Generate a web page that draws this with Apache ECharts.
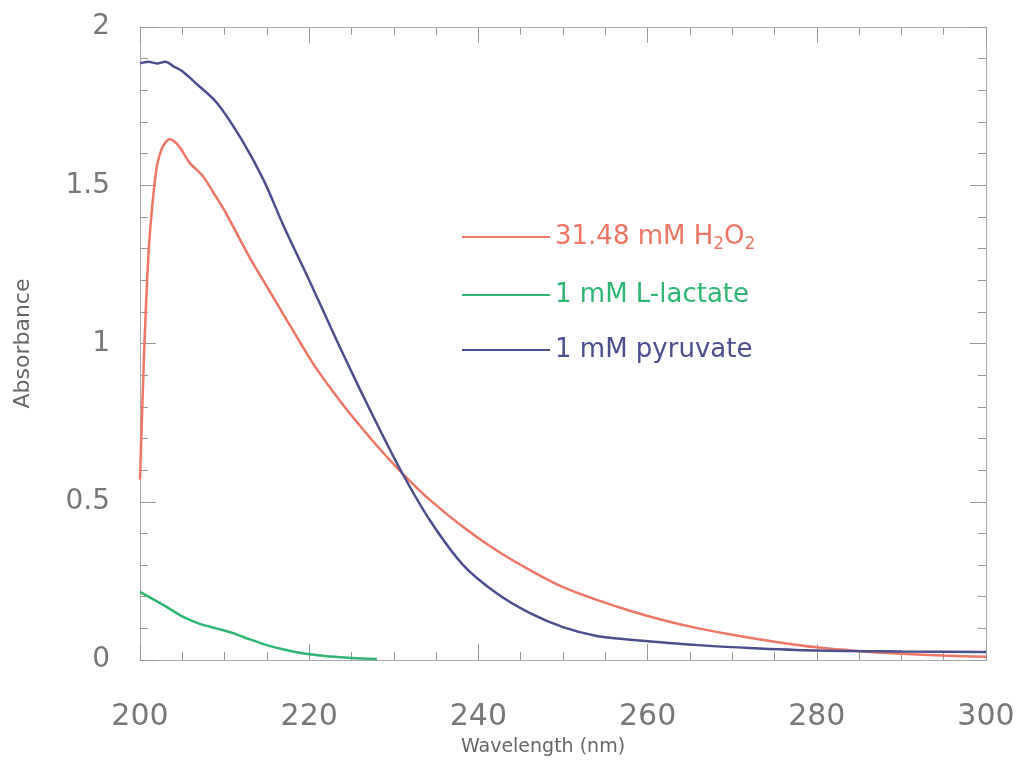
<!DOCTYPE html>
<html>
<head>
<meta charset="utf-8">
<script src="https://cdn.jsdelivr.net/npm/echarts@6/dist/echarts.min.js"></script>
<style>
  html, body { margin: 0; padding: 0; background: #fff; }
  #chart { width: 1018px; height: 764px; }
</style>
</head>
<body>
<div id="chart"></div>
<script>
// wavelength (nm) / absorbance
var h2o2Wl  = [200, 200.5, 201, 201.5, 202, 202.5, 203, 203.5, 204, 204.7, 205.9, 207.4, 208.6, 210, 211, 213, 215, 217, 219, 221, 223.6, 226, 228.4, 231, 234.3, 238.2, 242.2, 246.1, 250, 254, 258, 262, 266, 270, 275, 280, 285, 290, 295, 300];
var h2o2Abs = [0.57, 0.98, 1.28, 1.45, 1.56, 1.61, 1.635, 1.645, 1.64, 1.62, 1.57, 1.53, 1.48, 1.42, 1.37, 1.27, 1.18, 1.09, 1.0, 0.915, 0.82, 0.74, 0.665, 0.59, 0.505, 0.42, 0.345, 0.284, 0.23, 0.19, 0.155, 0.125, 0.1, 0.08, 0.058, 0.04, 0.028, 0.02, 0.014, 0.01];

var lactWl  = [200, 201, 203, 205.1, 207, 209, 211, 213, 215, 217, 219, 221, 223, 225, 228];
var lactAbs = [0.215, 0.2, 0.17, 0.136, 0.115, 0.1, 0.085, 0.065, 0.047, 0.033, 0.022, 0.015, 0.01, 0.006, 0.003];

var pyrWl  = [200, 201, 202, 203, 204, 205, 206.7, 209.1, 212, 214.6, 217, 220, 223.6, 226, 228.4, 231, 234.3, 238.2, 242.2, 246.1, 250, 254, 258, 262, 266, 272, 280, 290, 300];
var pyrAbs = [1.885, 1.89, 1.885, 1.89, 1.875, 1.86, 1.82, 1.76, 1.645, 1.517, 1.37, 1.2, 0.99, 0.855, 0.725, 0.59, 0.44, 0.3, 0.21, 0.148, 0.104, 0.076, 0.064, 0.055, 0.047, 0.038, 0.03, 0.027, 0.025];

var names  = ['31.48 mM H2O2', '1 mM L-lactate', '1 mM pyruvate'];
var colors = ['#ef7565', '#2fb673', '#4b4f8e'];

function pairs(xs, ys) {
    return xs.map(function (x, i) { return [x, ys[i]]; });
}

var chart = echarts.init(document.getElementById('chart'));

// common frame/tick look
var tickStyle = { color: '#999', width: 1 };
function xAx(pos, showLabel) {
    return {
        type: 'value', position: pos, min: 200, max: 300, interval: 20,
        axisLine: { show: true, onZero: false, lineStyle: { color: '#aaa' } },
        axisTick: { show: true, inside: true, length: 16, lineStyle: tickStyle },
        minorTick: { show: true, splitNumber: 4, length: 8, lineStyle: tickStyle },
        splitLine: { show: false },
        axisLabel: { show: showLabel, margin: 42, fontSize: 30, color: '#777', fontFamily: 'DejaVu Sans' }
    };
}
function yAx(pos, showLabel) {
    return {
        type: 'value', position: pos, min: 0, max: 2, interval: 0.5,
        axisLine: { show: true, onZero: false, lineStyle: { color: '#aaa' } },
        axisTick: { show: true, inside: true, length: 16, lineStyle: tickStyle },
        minorTick: { show: true, splitNumber: 5, length: 8, lineStyle: tickStyle },
        splitLine: { show: false },
        axisLabel: { show: showLabel, margin: 30, fontSize: 28, color: '#777', fontFamily: 'DejaVu Sans' }
    };
}

var xBottom = xAx('bottom', true);
xBottom.name = 'Wavelength (nm)';
xBottom.nameLocation = 'middle';
xBottom.nameGap = 78;
xBottom.nameTextStyle = { fontSize: 19, color: '#666', fontFamily: 'DejaVu Sans', padding: [0, 40, 0, 0] };

var yLeft = yAx('left', true);
yLeft.name = 'Absorbance';
yLeft.nameLocation = 'middle';
yLeft.nameGap = 106;
yLeft.nameTextStyle = { fontSize: 22, color: '#666', fontFamily: 'DejaVu Sans' };

var series = [
    pairs(h2o2Wl, h2o2Abs),
    pairs(lactWl, lactAbs),
    pairs(pyrWl, pyrAbs)
].map(function (d, i) {
    return {
        name: names[i], type: 'line', data: d, smooth: 0.3,
        showSymbol: false, symbol: 'none',
        lineStyle: { color: colors[i], width: 2.5 },
        itemStyle: { color: colors[i] },
        z: i === 1 ? 2 : 3
    };
});

var option = {
    backgroundColor: '#fff',
    animation: false,
    grid: { left: 140, right: 32, top: 27, bottom: 104 },
    xAxis: [xBottom, xAx('top', false)],
    yAxis: [yLeft, yAx('right', false)],
    legend: {
        orient: 'vertical', left: 457, top: 217,
        icon: 'rect', itemWidth: 88, itemHeight: 2, itemGap: 29,
        data: names.map(function (n, i) {
            return { name: n, textStyle: { color: colors[i] } };
        }),
        formatter: function (n) {
            if (n === names[0]) return '{a|31.48 mM H}{s|2}{a|O}{s|2}';
            return '{a|' + n + '}';
        },
        textStyle: {
            fontFamily: 'DejaVu Sans', fontSize: 26,
            rich: {
                a: { fontSize: 26, fontFamily: 'DejaVu Sans', lineHeight: 32, verticalAlign: 'middle' },
                s: { fontSize: 17, fontFamily: 'DejaVu Sans', lineHeight: 32, verticalAlign: 'bottom', padding: [14, 0, 0, 0] }
            }
        }
    },
    series: series
};

chart.setOption(option);
</script>
</body>
</html>
